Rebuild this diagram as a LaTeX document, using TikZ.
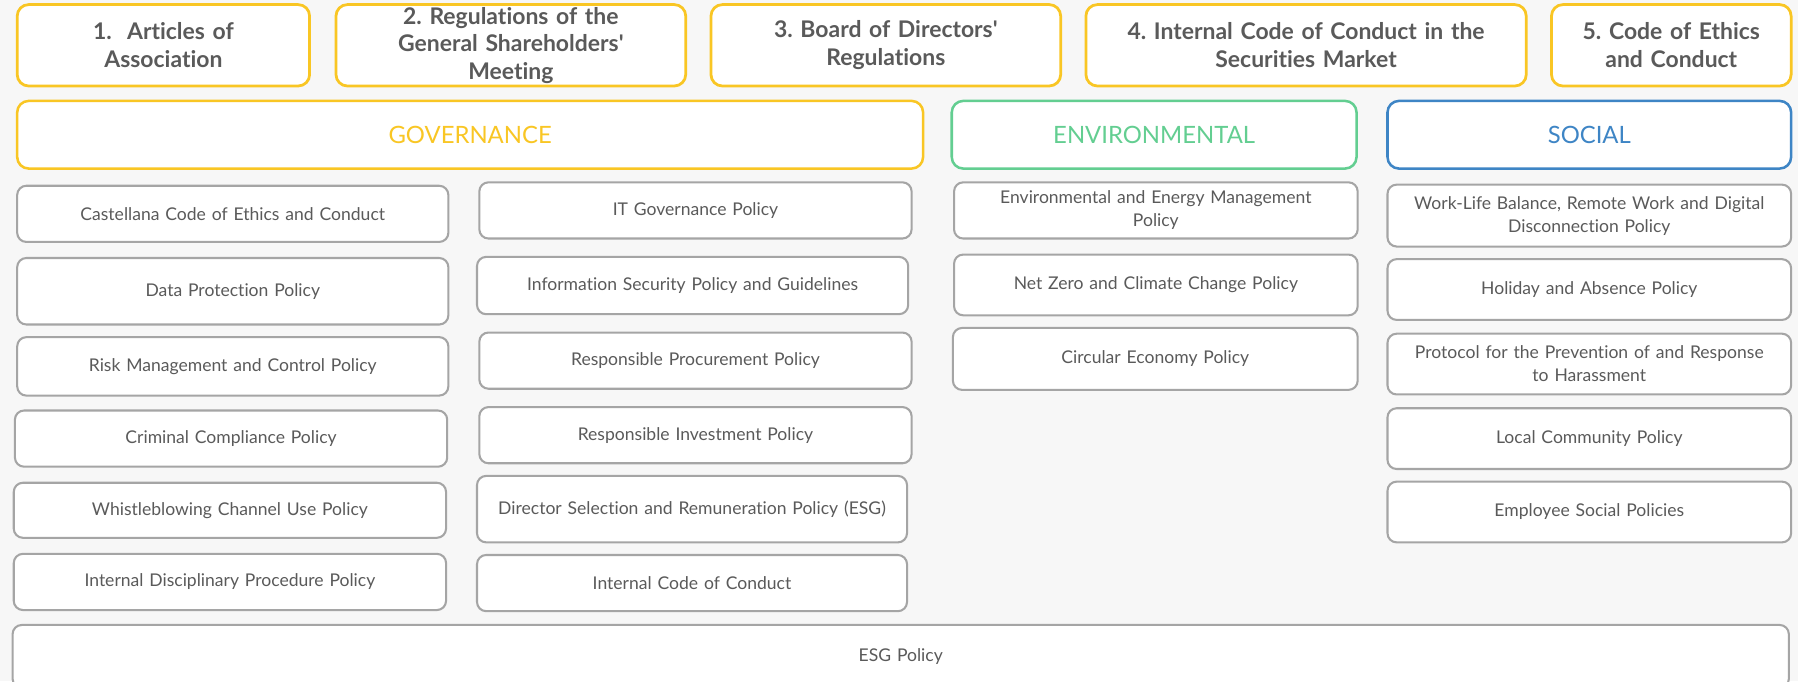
\documentclass[tikz,border=0pt]{standalone}
\usepackage{fontspec}
\setmainfont{Lato}[Ligatures={NoCommon}]
\definecolor{bg}{HTML}{F7F7F7}
\definecolor{ylw}{HTML}{F9C624}
\definecolor{grn}{HTML}{63CE91}
\definecolor{blu}{HTML}{3E85C5}
\definecolor{gry}{HTML}{A5A5A5}
\definecolor{txt}{HTML}{5A5A5A}
\tikzset{
  topbox/.style={draw=ylw, line width=2.4pt, rounded corners=10pt, fill=white, inner sep=0pt, align=center,
    text=txt, font=\fontsize{20}{24}\selectfont\bfseries},
  catbox/.style={line width=2.2pt, rounded corners=10pt, fill=white, inner sep=0pt, align=center,
    font=\fontsize{20.8}{24}\selectfont},
  polbox/.style={draw=gry, line width=1.8pt, rounded corners=8pt, fill=white, inner sep=0pt, align=center,
    text=txt, font=\fontsize{15.3}{20}\selectfont},
}
\newcommand\bx[7]{%
  \pgfmathsetmacro\bxw{#5-#3}%
  \pgfmathsetmacro\bxh{#6-#4}%
  \pgfmathsetmacro\bxt{#5-#3-12}%
  \pgfmathsetmacro\bxcx{(#3+#5)/2}%
  \pgfmathsetmacro\bxcy{(#4+#6)/2}%
  \node[#1, minimum width=\bxw pt, minimum height=\bxh pt, text width=\bxt pt] (#2) at (\bxcx,\bxcy) {#7};}
\begin{document}
\frenchspacing
\begin{tikzpicture}[x=1pt,y=-1pt]
\useasboundingbox (0,0) rectangle (1568,594);
\fill[bg] (0,0) rectangle (1568,594);
% top row
\bx{topbox}{t1}{15}{4}{270}{75}{1.~ Articles of\\Association}
\bx{topbox}{t2}{293}{4}{598}{75}{2. Regulations of the\\General Shareholders\textquotesingle\\Meeting}
\bx{topbox}{t3}{620}{4}{925}{75}{3. Board of Directors\textquotesingle\\Regulations}
\bx{topbox}{t4}{947}{4}{1331}{75}{4. Internal Code of Conduct in the\\Securities Market}
\bx{topbox}{t5}{1353}{4}{1562}{75}{5. Code of Ethics\\and Conduct}
% categories
\bx{catbox,draw=ylw,text=ylw}{gov}{15}{88}{805}{147}{GOVERNANCE}
\bx{catbox,draw=grn,text=grn}{env}{830}{88}{1183}{147}{ENVIRONMENTAL}
\bx{catbox,draw=blu,text=blu}{soc}{1210}{88}{1562}{147}{SOCIAL}
% governance left
\bx{polbox}{g1}{15}{162}{391}{211}{Castellana Code of Ethics and Conduct}
\bx{polbox}{g2}{15}{225}{391}{283}{Data Protection Policy}
\bx{polbox}{g3}{15}{294}{391}{345}{Risk Management and Control Policy}
\bx{polbox}{g4}{13}{358}{390}{407}{Criminal Compliance Policy}
\bx{polbox}{g5}{12}{421}{389}{469}{Whistleblowing Channel Use Policy}
\bx{polbox}{g6}{12}{483}{389}{532}{Internal Disciplinary Procedure Policy}
% governance right
\bx{polbox}{h1}{418}{159}{795}{208}{IT Governance Policy}
\bx{polbox}{h2}{416}{224}{792}{274}{Information Security Policy and Guidelines}
\bx{polbox}{h3}{418}{290}{795}{339}{Responsible Procurement Policy}
\bx{polbox}{h4}{418}{355}{795}{404}{Responsible Investment Policy}
\bx{polbox}{h5}{416}{415}{791}{473}{Director Selection and Remuneration Policy (ESG)}
\bx{polbox}{h6}{416}{484}{791}{533}{Internal Code of Conduct}
% environmental
\bx{polbox}{e1}{832}{159}{1184}{208}{Environmental and Energy Management\\Policy}
\bx{polbox}{e2}{832}{222}{1184}{275}{Net Zero and Climate Change Policy}
\bx{polbox}{e3}{831}{286}{1184}{340}{Circular Economy Policy}
% social
\bx{polbox}{s1}{1210}{161}{1562}{215}{Work-Life Balance, Remote Work and Digital\\Disconnection Policy}
\bx{polbox}{s2}{1210}{226}{1562}{279}{Holiday and Absence Policy}
\bx{polbox}{s3}{1210}{291}{1562}{344}{Protocol for the Prevention of and Response\\to Harassment}
\bx{polbox}{s4}{1210}{356}{1562}{409}{Local Community Policy}
\bx{polbox}{s5}{1210}{420}{1562}{473}{Employee Social Policies}
% ESG
\bx{polbox}{esg}{11}{545}{1560}{600}{ESG Policy}
\end{tikzpicture}
\end{document}
